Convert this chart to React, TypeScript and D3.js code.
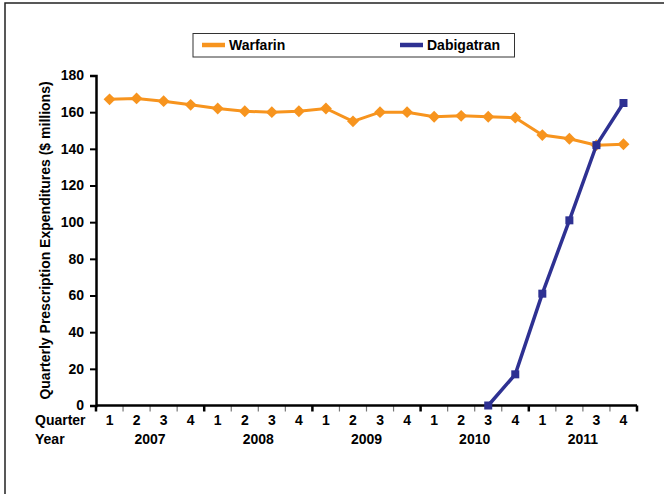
import React from 'react';
import * as d3 from 'd3';

const years = ['2007', '2008', '2009', '2010', '2011'];
const quarters = ['1', '2', '3', '4'];
const periods = years.flatMap(y => quarters.map(q => `${y}-${q}`));

const warfarin = [
  167, 167.5, 166, 164, 162, 160.5, 160, 160.5, 162, 155,
  160, 160, 157.5, 158, 157.5, 157, 147.5, 145.5, 142, 142.5,
];
// starts in Q3 2010
const dabigatranPeriods = ['2010-3', '2010-4', '2011-1', '2011-2', '2011-3', '2011-4'];
const dabigatran = [0, 17, 61, 101, 142, 165];

const yTicks = [0, 20, 40, 60, 80, 100, 120, 140, 160, 180];

const ORANGE = '#F7941E';
const NAVY = '#2E3192';
const FONT = 'Arial, "Liberation Sans", sans-serif';

const WIDTH = 664;
const HEIGHT = 494;

type AnySelection = d3.Selection<any, unknown, null, undefined>;

const App: React.FC = () => {
  const svgRef = React.useRef<SVGSVGElement>(null);

  React.useEffect(() => {
    if (!svgRef.current) return;
    const svg = d3.select(svgRef.current);
    svg.selectAll('*').remove();

    const margin = { left: 96, right: 27, top: 75.5, bottom: 88.5 };
    const x0 = margin.left;
    const x1 = WIDTH - margin.right;
    const yBottom = HEIGHT - margin.bottom;

    const xScale = d3.scalePoint<string>().domain(periods).range([x0, x1]).padding(0.5);
    const step = xScale.step();
    const yScale = d3.scaleLinear().domain([0, 180]).range([yBottom, margin.top]);

    // outer frame (only top/left visible)
    svg.append('rect')
      .attr('x', 5).attr('y', 3)
      .attr('width', 800).attr('height', 800)
      .attr('fill', 'none').attr('stroke', '#222').attr('stroke-width', 1.5);

    // legend
    const legend = svg.append('g');
    legend.append('rect')
      .attr('x', 193).attr('y', 33.5).attr('width', 321.5).attr('height', 23.5)
      .attr('fill', '#fff').attr('stroke', '#333').attr('stroke-width', 1);
    const legendItems = [
      { name: 'Warfarin', color: ORANGE, x: 202 },
      { name: 'Dabigatran', color: NAVY, x: 400 },
    ];
    legendItems.forEach(it => {
      legend.append('line')
        .attr('x1', it.x).attr('x2', it.x + 23).attr('y1', 45).attr('y2', 45)
        .attr('stroke', it.color).attr('stroke-width', 4.5);
      legend.append('text')
        .attr('x', it.x + 27).attr('y', 50)
        .attr('font-family', FONT).attr('font-size', 14).attr('font-weight', 'bold')
        .text(it.name);
    });

    // y axis
    svg.append('g')
      .attr('transform', `translate(${x0}, 0)`)
      .call(d3.axisLeft(yScale).tickValues(yTicks).tickSize(6).tickPadding(6))
      .call((g: AnySelection) => {
        g.select('.domain').attr('stroke', '#000').attr('stroke-width', 2.5);
        g.selectAll('.tick line').attr('stroke', '#000').attr('stroke-width', 2);
        g.selectAll('.tick text')
          .attr('font-family', FONT).attr('font-size', 14).attr('font-weight', 'bold')
          .attr('fill', '#000');
      });

    // y title
    svg.append('text')
      .attr('transform', `translate(50, ${(yBottom + margin.top) / 2}) rotate(-90)`)
      .attr('text-anchor', 'middle')
      .attr('font-family', FONT).attr('font-size', 14).attr('font-weight', 'bold')
      .text('Quarterly Prescription Expenditures ($ millions)');

    // x axis line and boundary ticks
    const xAxis = svg.append('g');
    d3.range(periods.length + 1).forEach(i => {
      const xx = x0 + i * step;
      const major = i % 4 === 0;
      xAxis.append('line')
        .attr('x1', xx).attr('x2', xx).attr('y1', yBottom).attr('y2', yBottom + 6)
        .attr('stroke', major ? '#000' : '#777').attr('stroke-width', major ? 2.5 : 1.2);
    });
    xAxis.append('line')
      .attr('x1', x0).attr('x2', x1).attr('y1', yBottom).attr('y2', yBottom)
      .attr('stroke', '#000').attr('stroke-width', 2.5);

    xAxis.selectAll('.q-label')
      .data(periods)
      .join('text')
      .attr('class', 'q-label')
      .attr('x', d => xScale(d)!)
      .attr('y', yBottom + 19.5)
      .attr('text-anchor', 'middle')
      .attr('font-family', FONT).attr('font-size', 14).attr('font-weight', 'bold')
      .text(d => d.split('-')[1]);

    xAxis.selectAll('.y-label')
      .data(years)
      .join('text')
      .attr('class', 'y-label')
      .attr('x', (d, i) => x0 + (i * 4 + 2) * step)
      .attr('y', yBottom + 38)
      .attr('text-anchor', 'middle')
      .attr('font-family', FONT).attr('font-size', 14).attr('font-weight', 'bold')
      .text(d => d);

    svg.append('text')
      .attr('x', 35).attr('y', yBottom + 19.5)
      .attr('font-family', FONT).attr('font-size', 14).attr('font-weight', 'bold')
      .text('Quarter');
    svg.append('text')
      .attr('x', 35).attr('y', yBottom + 38)
      .attr('font-family', FONT).attr('font-size', 14).attr('font-weight', 'bold')
      .text('Year');

    // warfarin series
    const warfarinData = periods.map((p, i) => ({ p, v: warfarin[i] }));
    const line = d3.line<{ p: string; v: number }>()
      .x(d => xScale(d.p)!)
      .y(d => yScale(d.v));

    svg.append('path')
      .datum(warfarinData)
      .attr('d', line)
      .attr('fill', 'none').attr('stroke', ORANGE).attr('stroke-width', 3);

    svg.append('g')
      .selectAll('path')
      .data(warfarinData)
      .join('path')
      .attr('d', d3.symbol(d3.symbolDiamond2, 90))
      .attr('transform', d => `translate(${xScale(d.p)}, ${yScale(d.v)})`)
      .attr('fill', ORANGE);

    // dabigatran series
    const dabData = dabigatranPeriods.map((p, i) => ({ p, v: dabigatran[i] }));
    svg.append('path')
      .datum(dabData)
      .attr('d', line)
      .attr('fill', 'none').attr('stroke', NAVY).attr('stroke-width', 3.5);

    svg.append('g')
      .selectAll('rect')
      .data(dabData)
      .join('rect')
      .attr('x', d => xScale(d.p)! - 4)
      .attr('y', d => yScale(d.v) - 4)
      .attr('width', 8).attr('height', 8)
      .attr('fill', NAVY);
  }, []);

  return (
    <svg
      ref={svgRef}
      width={WIDTH}
      height={HEIGHT}
      style={{ position: 'absolute', left: 0, top: 0, background: '#fff' }}
    />
  );
};

export default App;
